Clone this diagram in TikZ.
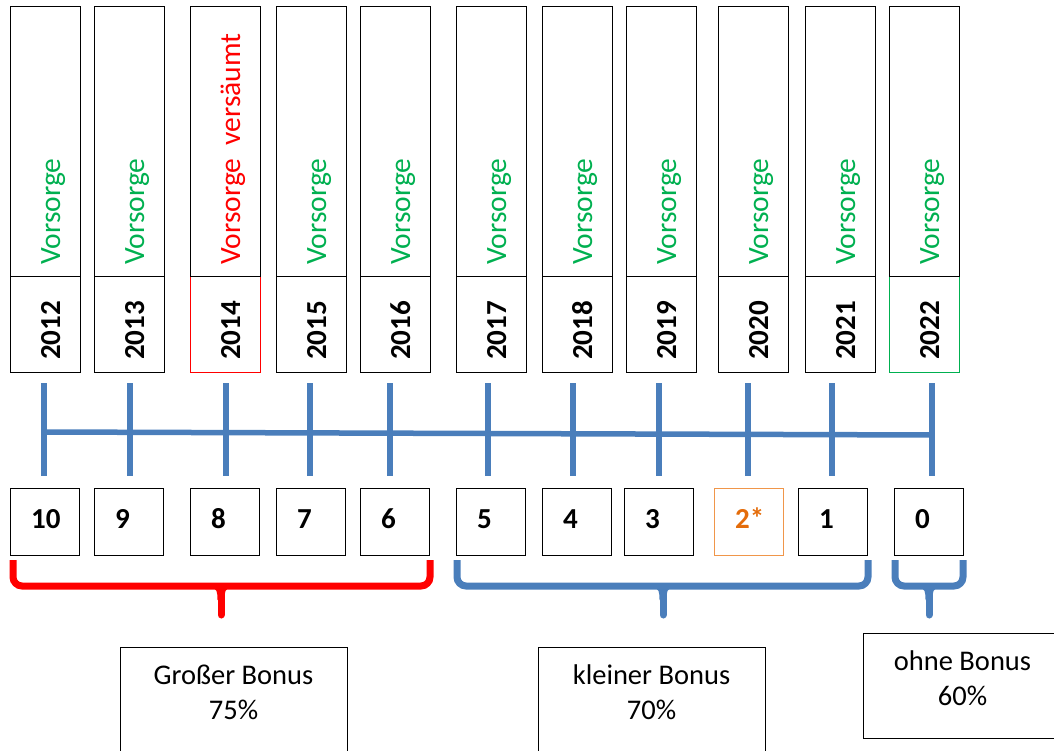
\documentclass[tikz,border=0pt]{standalone}
\usepackage{fontspec}
\setmainfont{Carlito}
\definecolor{vgreen}{HTML}{00B050}
\definecolor{vred}{HTML}{FF0000}
\definecolor{vblue}{HTML}{4A7EBB}
\definecolor{vorange}{HTML}{F0964A}
\definecolor{vorangetext}{HTML}{E46C0A}
\tikzset{
  cellbase/.style={draw=black, line width=1.1pt, anchor=north west, inner sep=0pt, minimum width=70pt},
  topcell/.style={cellbase, minimum height=270pt},
  yearcell/.style={cellbase, minimum height=96pt},
  vtext/.style={rotate=90, anchor=base west, inner sep=0pt, font=\fontsize{29.5}{35}\selectfont},
  ytext/.style={rotate=90, anchor=base west, inner sep=0pt, font=\fontsize{29}{35}\selectfont\bfseries},
  tick/.style={draw=vblue, line width=5.5pt},
  numbox/.style={draw=black, line width=1.1pt, anchor=north west, inner sep=0pt, minimum width=69pt, minimum height=67pt},
  numtext/.style={anchor=base west, inner sep=0pt, font=\fontsize{29}{35}\selectfont\bfseries},
  brace/.style={line width=7pt},
  bonusbox/.style={draw=black, line width=1.1pt, anchor=north west, inner sep=0pt},
  bonustext/.style={anchor=north, inner sep=0pt, align=center, font=\fontsize{28.5}{35}\selectfont}
}
\begin{document}
\begin{tikzpicture}[x=1pt, y=-1pt]
\useasboundingbox (0,0) rectangle (1054,751);

% year columns: upper cell with the check-up note, lower cell with the year
\foreach \x/\yr/\bc/\vt/\vc in {
  10/2012/black/Vorsorge/vgreen,
  94/2013/black/Vorsorge/vgreen,
  190/2014/vred/{Vorsorge\ \ versäumt}/vred,
  276/2015/black/Vorsorge/vgreen,
  360/2016/black/Vorsorge/vgreen,
  456/2017/black/Vorsorge/vgreen,
  542/2018/black/Vorsorge/vgreen,
  626/2019/black/Vorsorge/vgreen,
  718/2020/black/Vorsorge/vgreen,
  805/2021/black/Vorsorge/vgreen,
  889/2022/vgreen/Vorsorge/vgreen}
{
  \node[yearcell, draw=\bc] (y\yr) at (\x,276) {};
  \node[topcell] (c\yr) at (\x,6) {};
  \node[vtext, text=\vc] (v\yr) at (\x+50,265) {\vt};
  \node[ytext] (l\yr) at (\x+50,360) {\yr};
}

% time axis with one tick per year
\coordinate (hA) at (44,432);
\coordinate (hB) at (932,435);
\draw[tick] (hA) -- (hB);
\foreach \i/\x in {1/44,2/130,3/226,4/310,5/390,6/488,7/573,8/659,9/748,10/832,11/932}
{
  \coordinate (ta\i) at (\x,383);
  \coordinate (tb\i) at (\x,476);
  \draw[tick] (ta\i) -- (tb\i);
}

% remaining years counter
\foreach \x/\n/\bc/\tc in {
  10/10/black/black,
  94/9/black/black,
  190/8/black/black,
  276/7/black/black,
  360/6/black/black,
  456/5/black/black,
  542/4/black/black,
  624/3/black/black,
  714/2*/vorange/vorangetext,
  798/1/black/black,
  894/0/black/black}
{
  \node[numbox, draw=\bc] (n\x) at (\x,488) {};
  \node[numtext, text=\tc] (nt\x) at (\x+21,528) {\n};
}

% braces grouping the counters
\draw[brace, vred, rounded corners=9pt] (13,560) -- (13,586) -- (430,586) -- (430,560);
\draw[brace, vred, line cap=round] (221,588) -- (221,615);
\fill[vred] (211,588) .. controls (217,588) and (217.5,592) .. (217.5,600) -- (224.5,600) .. controls (224.5,592) and (225,588) .. (231,588) -- cycle;

\draw[brace, vblue, rounded corners=9pt] (457,560) -- (457,586) -- (868,586) -- (868,560);
\draw[brace, vblue, line cap=round] (663,588) -- (663,615);
\fill[vblue] (653,588) .. controls (659,588) and (659.5,592) .. (659.5,600) -- (666.5,600) .. controls (666.5,592) and (667,588) .. (673,588) -- cycle;

\draw[brace, vblue, rounded corners=9pt] (895,560) -- (895,586) -- (963,586) -- (963,560);
\draw[brace, vblue, line cap=round] (929,588) -- (929,615);
\fill[vblue] (919,588) .. controls (925,588) and (925.5,592) .. (925.5,600) -- (932.5,600) .. controls (932.5,592) and (933,588) .. (939,588) -- cycle;

% bonus boxes
\node[bonusbox, minimum width=227pt, minimum height=130pt] (gb) at (120,647) {};
\node[bonustext] (gbt) at (233.5,665) {Großer Bonus\\75\%};
\node[bonusbox, minimum width=227pt, minimum height=130pt] (kb) at (538,647) {};
\node[bonustext] (kbt) at (651.5,665) {kleiner Bonus\\70\%};
\node[bonusbox, minimum width=200pt, minimum height=105pt] (ob) at (863,633) {};
\node[bonustext] (obt) at (962.5,651) {ohne Bonus\\60\%};
\end{tikzpicture}
\end{document}
